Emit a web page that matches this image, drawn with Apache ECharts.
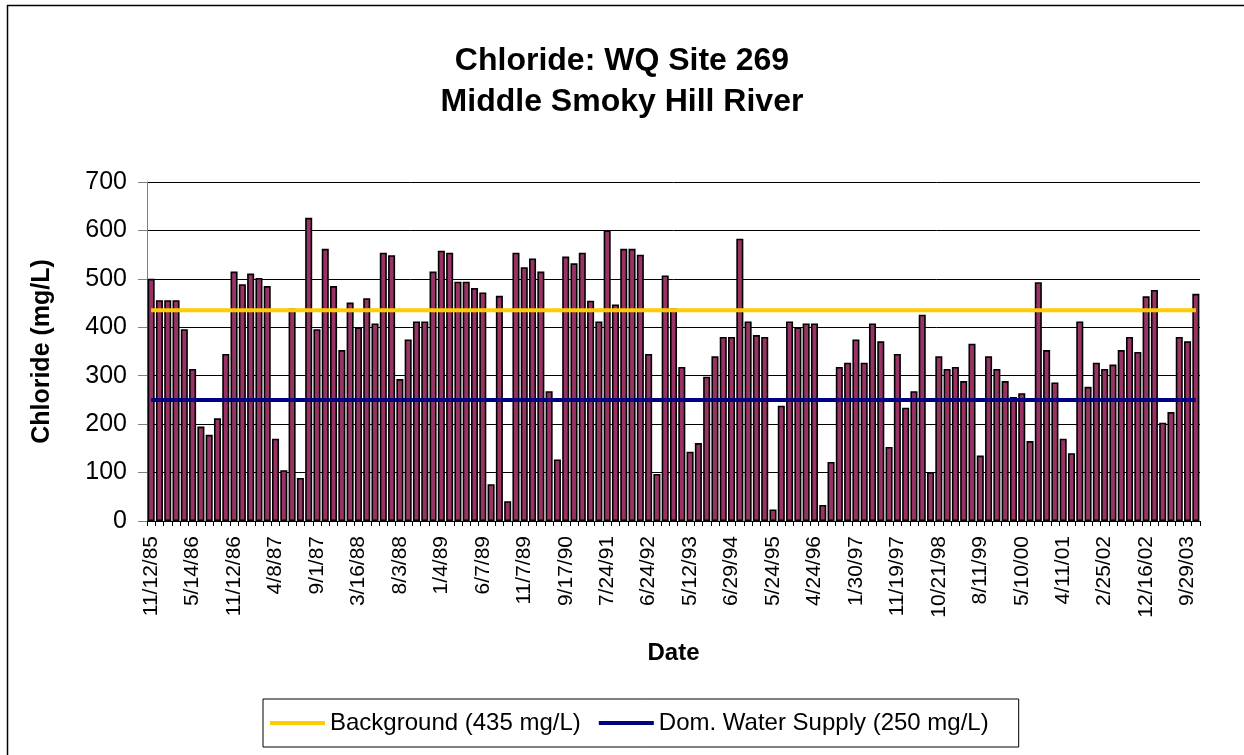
<!DOCTYPE html>
<html>
<head>
<meta charset="utf-8">
<script src="https://cdn.jsdelivr.net/npm/echarts@6/dist/echarts.min.js"></script>
<style>
  html, body { margin: 0; padding: 0; background: #fff; }
  #chart { width: 1244px; height: 755px; }
</style>
</head>
<body>
<div id="chart"></div>
<script>
// shown date labels (every 5th sample)
var tickLabels = [
  '11/12/85', '5/14/86', '11/12/86', '4/8/87', '9/1/87', '3/16/88', '8/3/88',
  '1/4/89', '6/7/89', '11/7/89', '9/17/90', '7/24/91', '6/24/92', '5/12/93',
  '6/29/94', '5/24/95', '4/24/96', '1/30/97', '11/19/97', '10/21/98',
  '8/11/99', '5/10/00', '4/11/01', '2/25/02', '12/16/02', '9/29/03'
];

// chloride, mg/L, one value per sample
var chloride = [
  500, 456, 456, 456, 396, 314, 195, 178, 212, 345,
  515, 489, 511, 502, 485, 170, 105, 439, 89, 626,
  396, 562, 485, 353, 451, 400, 460, 408, 554, 549,
  293, 375, 412, 412, 515, 558, 554, 494, 494, 481,
  472, 76, 465, 41, 554, 524, 542, 515, 268, 127,
  546, 532, 554, 455, 412, 600, 447, 562, 562, 550,
  345, 97, 507, 439, 318, 143, 161, 298, 340, 380,
  380, 583, 412, 384, 380, 24, 238, 412, 400, 408,
  408, 33, 122, 318, 327, 375, 327, 408, 371, 153,
  345, 234, 268, 426, 101, 340, 314, 318, 289, 366,
  135, 340, 314, 289, 256, 264, 165, 493, 353, 286,
  170, 140, 412, 277, 327, 314, 323, 353, 380, 349,
  464, 477, 203, 225, 380, 371, 469
];

var backgroundLevel = 435;   // mg/L
var domWaterLevel = 250;     // mg/L

var samples = chloride.map(function (v, i) { return String(i); });
var backgroundLine = chloride.map(function () { return backgroundLevel; });
var domWaterLine = chloride.map(function () { return domWaterLevel; });

var font = 'Liberation Sans, Arial, sans-serif';

var chart = echarts.init(document.getElementById('chart'));

chart.setOption({
  backgroundColor: '#fff',
  animation: false,
  graphic: [{
    type: 'rect',
    shape: { x: 7.5, y: 5.5, width: 1260, height: 780 },
    style: { fill: 'none', stroke: '#000', lineWidth: 1.5 },
    silent: true
  }],
  title: {
    text: 'Chloride: WQ Site 269\nMiddle Smoky Hill River',
    left: 'center',
    top: 36,
    textStyle: {
      fontFamily: font, fontSize: 32, fontWeight: 'bold', color: '#000',
      lineHeight: 41
    }
  },
  legend: {
    left: 263,
    top: 699,
    orient: 'horizontal',
    icon: 'rect',
    itemWidth: 55,
    itemHeight: 4,
    itemGap: 18,
    padding: [12, 30, 12, 7],
    borderColor: '#000',
    borderWidth: 1,
    textStyle: { fontFamily: font, fontSize: 24, color: '#000' },
    data: ['Background (435 mg/L)', 'Dom. Water Supply (250 mg/L)']
  },
  grid: {
    left: 147, right: 44, top: 182, bottom: 234,
    containLabel: false,
    outerBoundsMode: 'none'
  },
  xAxis: {
    type: 'category',
    data: samples,
    name: 'Date',
    nameLocation: 'middle',
    nameGap: 120,
    nameTextStyle: { fontFamily: font, fontSize: 24, fontWeight: 'bold', color: '#000' },
    axisLine: { lineStyle: { color: '#000', width: 1 } },
    axisTick: { show: true, interval: 0, length: 5, lineStyle: { color: '#000' } },
    axisLabel: {
      interval: 4,
      rotate: 90,
      margin: 15,
      fontFamily: font,
      fontSize: 21,
      color: '#000',
      formatter: function (value, index) { return tickLabels[index / 5] || ''; }
    },
    splitLine: { show: false }
  },
  yAxis: {
    type: 'value',
    min: 0,
    max: 700,
    interval: 100,
    name: 'Chloride (mg/L)',
    nameLocation: 'middle',
    nameRotate: 90,
    nameGap: 92,
    nameTextStyle: { fontFamily: font, fontSize: 25, fontWeight: 'bold', color: '#000' },
    axisLine: { show: true, lineStyle: { color: '#808080', width: 1 } },
    axisTick: { show: true, length: 9, lineStyle: { color: '#808080' } },
    axisLabel: { margin: 20, fontFamily: font, fontSize: 25, color: '#000' },
    splitLine: { show: true, lineStyle: { color: '#000', width: 1 } }
  },
  series: [
    {
      name: 'Chloride',
      type: 'bar',
      data: chloride,
      barCategoryGap: '15%',
      itemStyle: { color: '#993366', borderColor: '#000', borderWidth: 1.6 }
    },
    {
      name: 'Background (435 mg/L)',
      type: 'line',
      data: backgroundLine,
      symbol: 'none',
      lineStyle: { color: '#FFCC00', width: 4 },
      itemStyle: { color: '#FFCC00' },
      z: 3
    },
    {
      name: 'Dom. Water Supply (250 mg/L)',
      type: 'line',
      data: domWaterLine,
      symbol: 'none',
      lineStyle: { color: '#000080', width: 4 },
      itemStyle: { color: '#000080' },
      z: 3
    }
  ]
});
</script>
</body>
</html>
